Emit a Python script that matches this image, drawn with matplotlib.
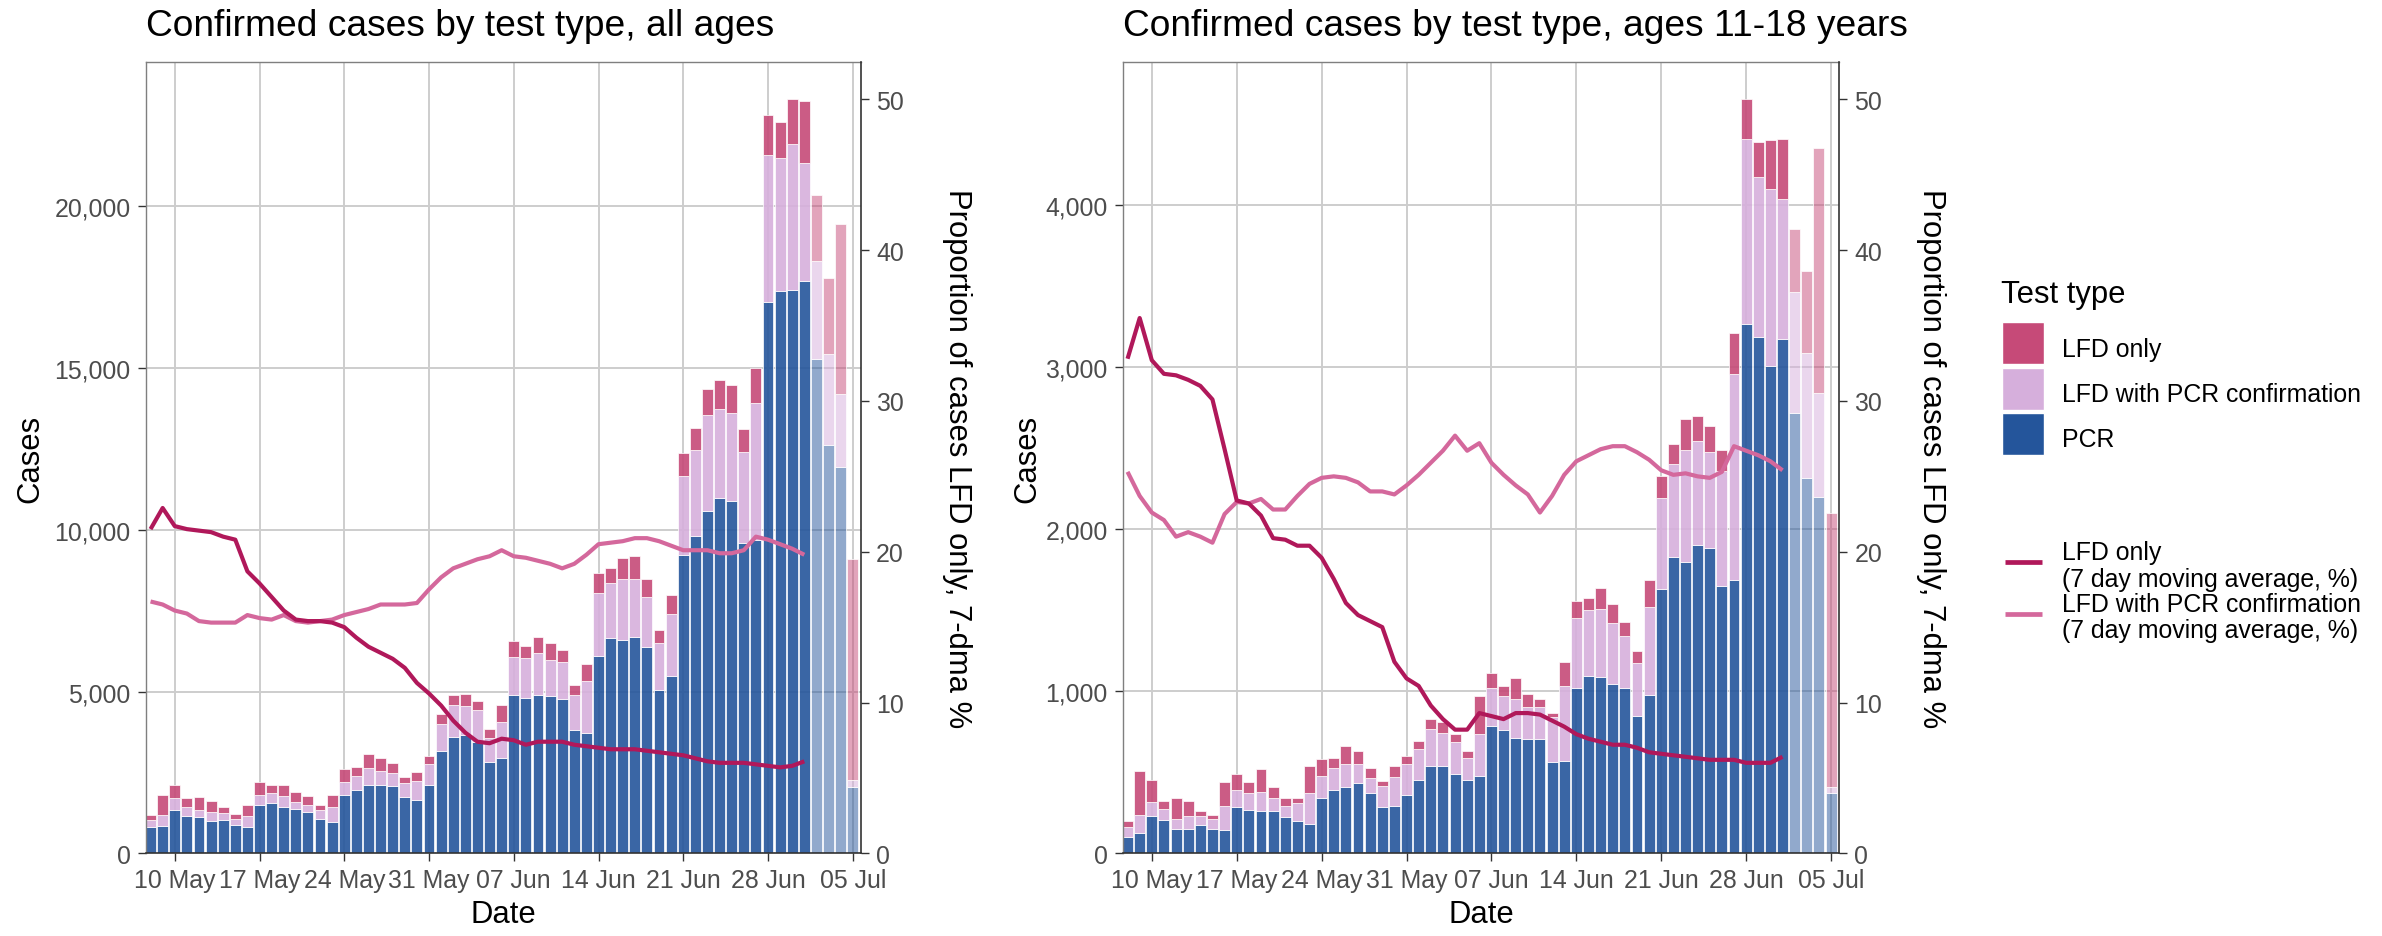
import matplotlib
matplotlib.use("Agg")
import matplotlib.pyplot as plt
import matplotlib.dates as mdates
from matplotlib.patches import Rectangle
from matplotlib.lines import Line2D
from matplotlib.colors import to_rgba
from matplotlib.ticker import FuncFormatter, FixedLocator
import datetime as dt

plt.rcParams['font.family'] = ['Liberation Sans', 'DejaVu Sans']

# ---------------- data ----------------
START = dt.date(2021, 5, 8)
dates = [START + dt.timedelta(days=i) for i in range(59)]      # 8 May .. 5 Jul
line_dates = dates[:55]                                          # 8 May .. 1 Jul
n_provisional = 4                                                # last 4 bars faded

# all ages: stacked segments
all_pcr = [803, 845, 1349, 1154, 1112, 999, 1040, 876, 803, 1504, 1545, 1421, 1380, 1267,
           1071, 958, 1813, 1967, 2122, 2122, 2081, 1730, 1658, 2122, 3172, 3605, 3646, 3430,
           2833, 2946, 4893, 4810, 4893, 4851, 4779, 3801, 3729, 6098, 6644, 6602, 6685, 6365,
           5047, 5480, 9219, 9816, 10588, 10980, 10897, 9579, 9700, 17057, 17376, 17428, 17695,
           15275, 12618, 11958, 2060]
all_lfd_pcr = [227, 350, 351, 267, 237, 268, 196, 195, 351, 309, 309, 351, 196, 237,
               278, 463, 391, 433, 505, 432, 391, 433, 587, 628, 824, 979, 896, 999,
               741, 1123, 1163, 1216, 1287, 1133, 1123, 1092, 1586, 1946, 1709, 1875, 1792, 1566,
               1442, 1905, 2431, 2657, 2967, 2770, 2730, 2843, 4236, 4532, 4130, 4511, 3657,
               3038, 2811, 2256, 206]
all_lfd_only = [165, 618, 422, 279, 381, 350, 185, 155, 350, 391, 268, 350, 309, 268,
                155, 392, 392, 268, 432, 392, 319, 196, 268, 268, 309, 309, 392, 268,
                268, 504, 505, 381, 505, 505, 391, 309, 546, 629, 474, 659, 700, 546,
                422, 587, 740, 690, 814, 897, 865, 711, 1061, 1246, 1103, 1370, 1916,
                2030, 2369, 5232, 6829]
all_pct_lfd_only = [21.5, 22.9, 21.7, 21.5, 21.4, 21.3, 21.0, 20.8, 18.7, 17.9, 17.0, 16.1,
                    15.5, 15.4, 15.4, 15.3, 15.0, 14.3, 13.7, 13.3, 12.9, 12.3, 11.3, 10.6,
                    9.8, 8.8, 8.0, 7.4, 7.3, 7.6, 7.5, 7.2, 7.4, 7.4, 7.4, 7.2, 7.1, 7.0,
                    6.9, 6.9, 6.9, 6.8, 6.7, 6.6, 6.5, 6.3, 6.1, 6.0, 6.0, 6.0, 5.9, 5.8,
                    5.7, 5.8, 6.1]
all_pct_lfd_pcr = [16.7, 16.5, 16.1, 15.9, 15.4, 15.3, 15.3, 15.3, 15.8, 15.6, 15.5, 15.8,
                   15.4, 15.3, 15.4, 15.5, 15.8, 16.0, 16.2, 16.5, 16.5, 16.5, 16.6, 17.5,
                   18.3, 18.9, 19.2, 19.5, 19.7, 20.1, 19.7, 19.6, 19.4, 19.2, 18.9, 19.2,
                   19.8, 20.5, 20.6, 20.7, 20.9, 20.9, 20.7, 20.4, 20.1, 20.1, 20.1, 19.9,
                   19.9, 20.1, 21.0, 20.8, 20.5, 20.2, 19.8]

# ages 11-18: stacked segments
teen_pcr = [99, 123, 230, 208, 152, 152, 175, 152, 144, 284, 269, 261, 261, 222, 199, 183,
            339, 393, 407, 432, 370, 284, 292, 362, 454, 541, 541, 487, 454, 479, 783, 759,
            713, 705, 705, 565, 572, 1022, 1094, 1086, 1047, 1022, 845, 979, 1630, 1826, 1795,
            1902, 1881, 1647, 1686, 3265, 3181, 3008, 3172, 2714, 2315, 2200, 370]
teen_lfd_pcr = [61, 115, 85, 67, 62, 78, 55, 62, 148, 109, 101, 115, 78, 70, 109, 187,
                140, 131, 142, 117, 93, 131, 179, 187, 187, 226, 201, 202, 134, 257, 235, 209,
                239, 196, 196, 274, 458, 430, 405, 421, 374, 321, 327, 542, 562, 575, 695,
                639, 592, 713, 1270, 1137, 989, 1090, 864, 746, 771, 637, 37]
teen_lfd_only = [37, 272, 139, 48, 125, 93, 31, 24, 148, 94, 70, 142, 68, 47, 31, 171,
                 101, 64, 115, 84, 63, 33, 70, 53, 54, 62, 70, 45, 45, 232, 92, 62,
                 127, 82, 51, 27, 148, 106, 74, 130, 115, 84, 78, 163, 133, 124, 191,
                 154, 161, 124, 253, 247, 215, 298, 366, 387, 506, 1511, 1692]
teen_pct_lfd_only = [32.8, 35.5, 32.7, 31.8, 31.7, 31.4, 31.0, 30.1, 26.8, 23.4, 23.2, 22.4,
                     20.9, 20.8, 20.4, 20.4, 19.6, 18.2, 16.6, 15.8, 15.4, 15.0, 12.7, 11.6,
                     11.1, 9.8, 8.9, 8.2, 8.2, 9.3, 9.1, 8.9, 9.3, 9.3, 9.2, 8.8, 8.4, 7.9,
                     7.6, 7.4, 7.2, 7.2, 7.0, 6.7, 6.6, 6.5, 6.4, 6.3, 6.2, 6.2, 6.2, 6.0,
                     6.0, 6.0, 6.4]
teen_pct_lfd_pcr = [25.3, 23.7, 22.6, 22.1, 21.0, 21.3, 21.0, 20.6, 22.5, 23.3, 23.2, 23.5,
                    22.8, 22.8, 23.7, 24.5, 24.9, 25.0, 24.9, 24.6, 24.0, 24.0, 23.8, 24.4,
                    25.1, 25.9, 26.7, 27.7, 26.7, 27.2, 25.9, 25.1, 24.4, 23.8, 22.6, 23.7,
                    25.1, 26.0, 26.4, 26.8, 27.0, 27.0, 26.6, 26.1, 25.4, 25.1, 25.2, 25.0,
                    24.9, 25.3, 27.0, 26.7, 26.4, 26.0, 25.4]

titles = ["Confirmed cases by test type, all ages",
          "Confirmed cases by test type, ages 11-18 years"]
left_ticks = [[0, 5000, 10000, 15000, 20000], [0, 1000, 2000, 3000, 4000]]
right_ticks = [0, 10, 20, 30, 40, 50]
tick_dates = [dt.date(2021, 5, 10) + dt.timedelta(days=7 * k) for k in range(9)]
legend_bar_labels = ["LFD only", "LFD with PCR confirmation", "PCR"]
legend_line_labels = ["LFD only\n(7 day moving average, %)",
                      "LFD with PCR confirmation\n(7 day moving average, %)"]

# ---------------- style ----------------
C_LFD = '#C64A78'
C_LFDPCR = '#D6AFDC'
C_PCR = '#24559B'
L_LFD = '#B0185A'
L_LFDPCR = '#D4689C'
GRID = '#CDCDCD'
BORDER = '#7F7F7F'
AXLINE = '#333333'
TICKTXT = '#4D4D4D'
FS_TITLE = 26.7
FS_AXIS = 22.3
FS_TICK = 17.9

W, H = 2382, 937
fig = plt.figure(figsize=(W / 100, H / 100), dpi=100)


def fx(px):
    return px / W


def fy(py):
    return 1 - py / H


panel_px = [(145.7, 861.0), (1122.7, 1839.3)]
top_px, bot_px = 62.7, 854.3
ylab_x = [-0.1618, -0.1336]
y2lab_x = [1.134, 1.128]

x_bars = mdates.date2num(dates)
x_line = mdates.date2num(line_dates)
alphas = [0.9] * (len(dates) - n_provisional) + [0.5] * n_provisional

datasets = [
    (all_pcr, all_lfd_pcr, all_lfd_only, all_pct_lfd_only, all_pct_lfd_pcr),
    (teen_pcr, teen_lfd_pcr, teen_lfd_only, teen_pct_lfd_only, teen_pct_lfd_pcr),
]

for i, (pcr, lfdpcr, lfd, p_lfd, p_lfdpcr) in enumerate(datasets):
    x0, x1 = panel_px[i]
    rect = [fx(x0), fy(bot_px), (x1 - x0) / W, (bot_px - top_px) / H]
    ax = fig.add_axes(rect)
    ax2 = ax.twinx()

    bottom2 = [a + b for a, b in zip(pcr, lfdpcr)]
    totals = [a + b for a, b in zip(bottom2, lfd)]
    ymax = max(totals)

    ax.bar(x_bars, pcr, width=0.9, color=[to_rgba(C_PCR, a) for a in alphas],
           edgecolor='white', linewidth=0.5, zorder=2)
    ax.bar(x_bars, lfdpcr, width=0.9, bottom=pcr,
           color=[to_rgba(C_LFDPCR, a) for a in alphas],
           edgecolor='white', linewidth=0.5, zorder=2)
    ax.bar(x_bars, lfd, width=0.9, bottom=bottom2,
           color=[to_rgba(C_LFD, a) for a in alphas],
           edgecolor='white', linewidth=0.5, zorder=2)

    ax2.plot(x_line, p_lfdpcr, color=L_LFDPCR, lw=3.0, solid_capstyle='butt')
    ax2.plot(x_line, p_lfd, color=L_LFD, lw=3.0, solid_capstyle='butt')

    ax.set_xlim(mdates.date2num(dates[0]) - 0.4, mdates.date2num(dates[-1]) + 0.68)
    ax.set_ylim(0, ymax * 1.05)
    ax2.set_ylim(0, 50 * 1.05)

    ax.xaxis.set_major_locator(FixedLocator(mdates.date2num(tick_dates)))
    ax.xaxis.set_major_formatter(mdates.DateFormatter('%d %b'))
    ax.set_yticks(left_ticks[i])
    ax.yaxis.set_major_formatter(FuncFormatter(lambda v, p: f"{int(v):,}"))
    ax2.set_yticks(right_ticks)

    ax.set_axisbelow(True)
    ax.grid(True, color=GRID, lw=1.4)

    for a in (ax, ax2):
        a.tick_params(direction='out', length=5.8, width=1.0, color=AXLINE,
                      labelsize=FS_TICK, labelcolor=TICKTXT, pad=5)
    ax.spines['top'].set_color(BORDER)
    ax.spines['left'].set_color(BORDER)
    ax.spines['top'].set_linewidth(1.0)
    ax.spines['left'].set_linewidth(1.0)
    ax.spines['bottom'].set_color(AXLINE)
    ax.spines['bottom'].set_linewidth(1.2)
    ax.spines['right'].set_visible(False)
    for s in ('top', 'left', 'bottom'):
        ax2.spines[s].set_visible(False)
    ax2.spines['right'].set_color(AXLINE)
    ax2.spines['right'].set_linewidth(1.2)

    ax.set_xlabel('Date', fontsize=FS_AXIS, color='black')
    ax.xaxis.set_label_coords(0.5, -0.077)
    ax.xaxis.label.set_va('center')
    ax.set_ylabel('Cases', fontsize=FS_AXIS, color='black')
    ax.yaxis.set_label_coords(ylab_x[i], 0.5)
    ax.yaxis.label.set_va('center')
    ax2.set_ylabel('Proportion of cases LFD only, 7-dma %', fontsize=FS_AXIS,
                   color='black', rotation=270)
    ax2.yaxis.set_label_coords(y2lab_x[i], 0.5)
    ax2.yaxis.label.set_va('center')

    fig.text(fx(x0), fy(35.5), titles[i], fontsize=FS_TITLE, ha='left', va='baseline',
             color='black')

# ---------------- legend ----------------
fig.text(fx(2001), fy(303), 'Test type', fontsize=FS_AXIS, ha='left', va='baseline')
sw_tops = [323, 369, 414]
sw_cols = [C_LFD, C_LFDPCR, C_PCR]
for top, col, lab in zip(sw_tops, sw_cols, legend_bar_labels):
    fig.add_artist(Rectangle((fx(2002), fy(top + 42)), 42 / W, 42 / H,
                             transform=fig.transFigure, facecolor=col,
                             edgecolor='white', lw=1.0))
    fig.text(fx(2062), fy(top + 33.5), lab, fontsize=FS_TICK, ha='left', va='baseline')

line_y = [563, 615]
line_cols = [L_LFD, L_LFDPCR]
text_base = [(560, 586.5), (611.5, 638)]
for yy, col, lab, tb in zip(line_y, line_cols, legend_line_labels, text_base):
    fig.add_artist(Line2D([fx(2005), fx(2042)], [fy(yy), fy(yy)],
                          transform=fig.transFigure, color=col, lw=3.4,
                          solid_capstyle='butt'))
    l1, l2 = lab.split('\n')
    fig.text(fx(2062), fy(tb[0]), l1, fontsize=FS_TICK, ha='left', va='baseline')
    fig.text(fx(2062), fy(tb[1]), l2, fontsize=FS_TICK, ha='left', va='baseline')

fig.savefig('out.png', dpi=100)
